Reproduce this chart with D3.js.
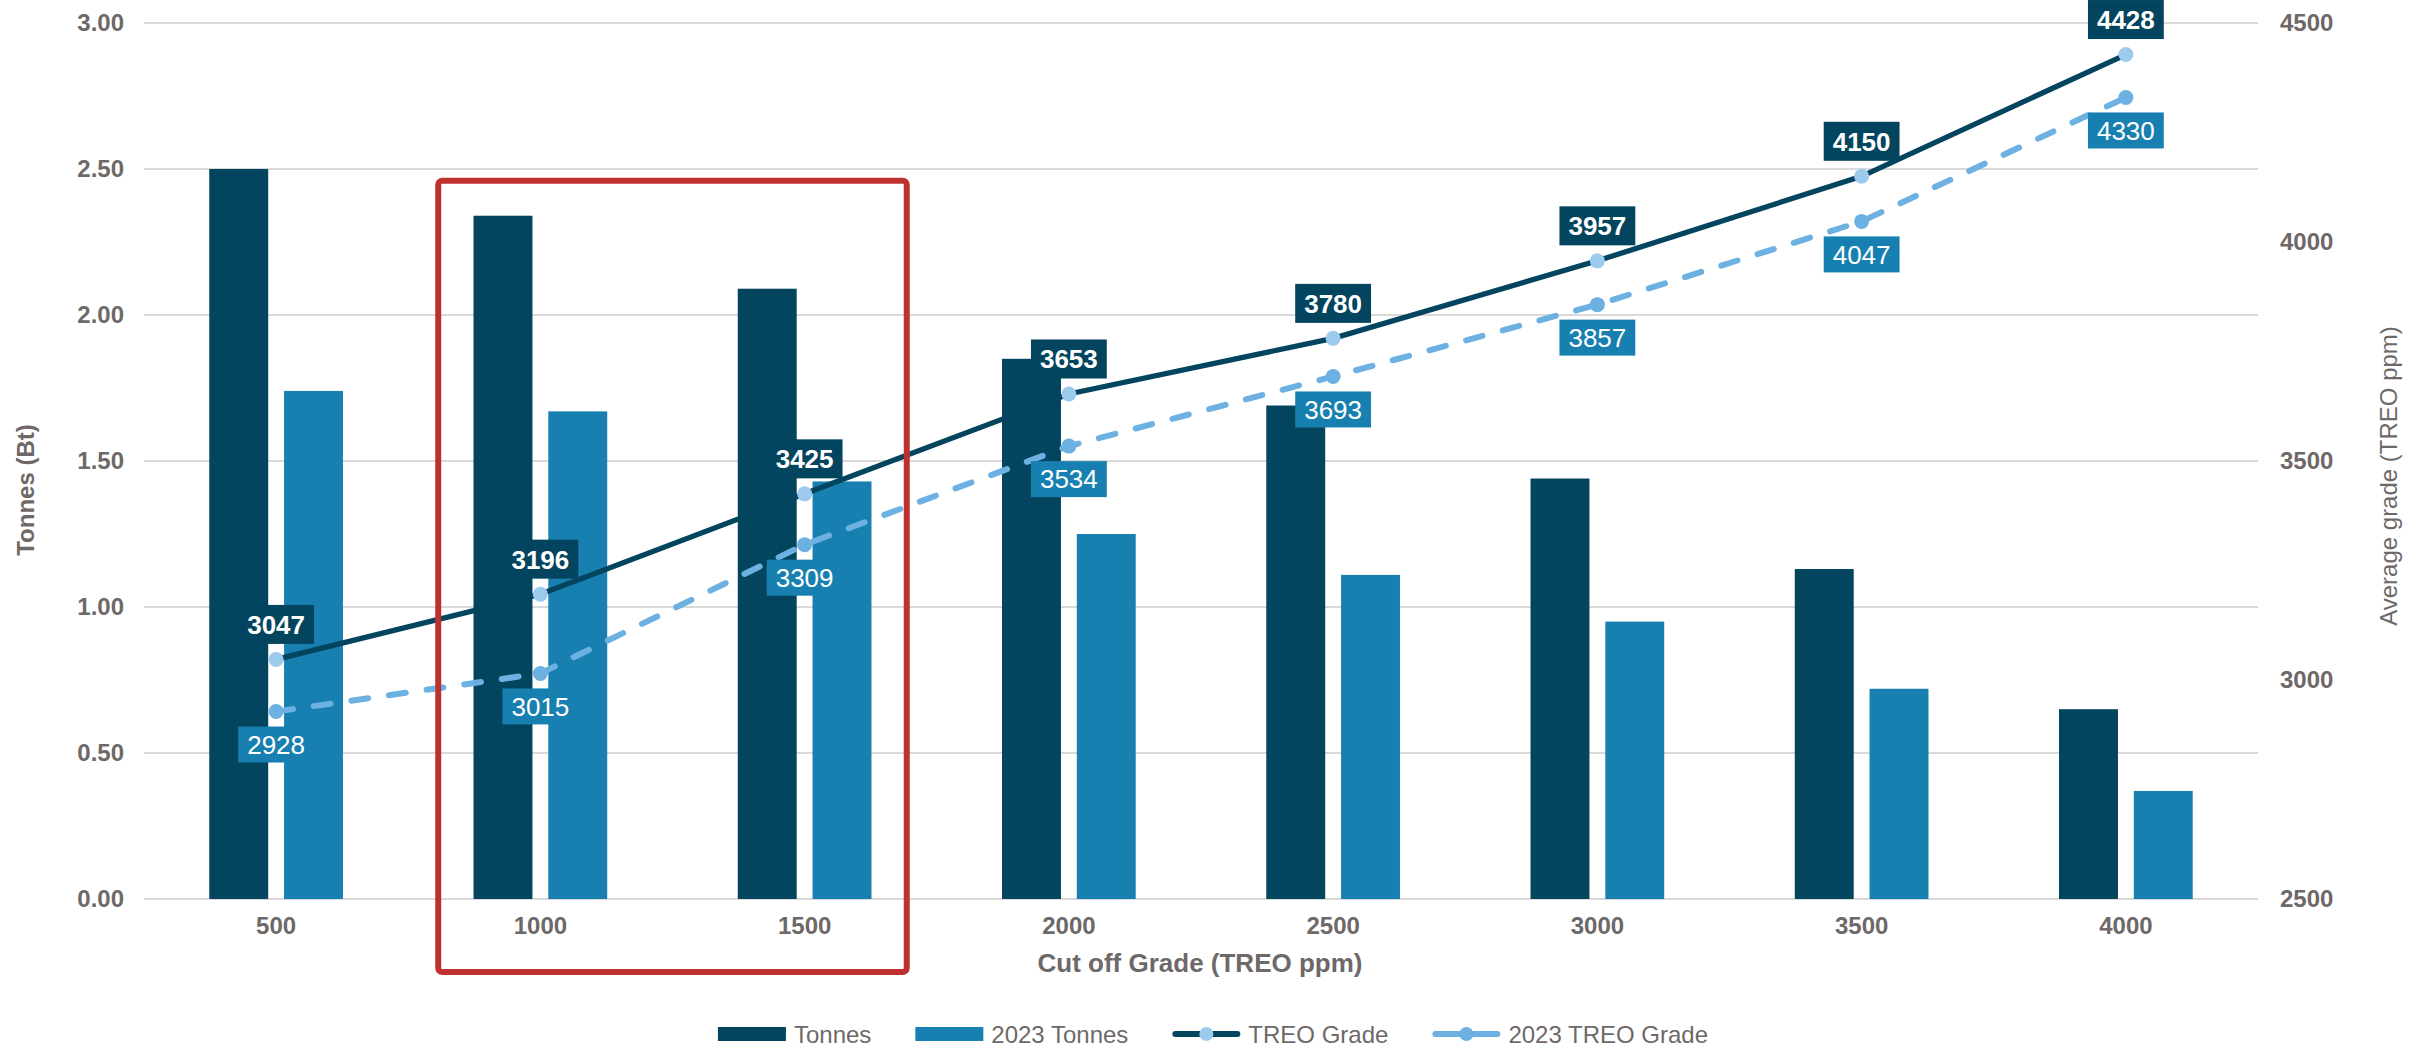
<!DOCTYPE html>
<html><head><meta charset="utf-8">
<script src="https://cdn.jsdelivr.net/npm/d3@7"></script>
<style>
html,body{margin:0;padding:0;background:#fff;}
text{font-family:"Liberation Sans",Arial,sans-serif;}
</style></head>
<body><svg id="chart" width="2427" height="1048"></svg>
<script>
const categories = ["500","1000","1500","2000","2500","3000","3500","4000"];
const tonnes = [2.50, 2.34, 2.09, 1.85, 1.69, 1.44, 1.13, 0.65];
const tonnes2023 = [1.74, 1.67, 1.43, 1.25, 1.11, 0.95, 0.72, 0.37];
const treoGrade = [3047, 3196, 3425, 3653, 3780, 3957, 4150, 4428];
const treoGrade2023 = [2928, 3015, 3309, 3534, 3693, 3857, 4047, 4330];
const leftTicks = [0, 0.5, 1.0, 1.5, 2.0, 2.5, 3.0];
const rightTicks = [2500, 3000, 3500, 4000, 4500];
const highlightCats = ["1000","1500"];
const highlightTop = 2.46;

const C = {dark:"#03445e", light:"#1880b0", dash:"#6db0e2", marker:"#9dcbee", grid:"#d9d9d9", text:"#6e6868", red:"#bf312f"};
const svg = d3.select("#chart");
const L = 144, R = 2258, T = 23, B = 899;

const x = d3.scaleBand().domain(categories).range([L, R]).padding(0);
const yL = d3.scaleLinear().domain([0, 3]).range([B, T]);
const yR = d3.scaleLinear().domain([2500, 4500]).range([B, T]);
const bw = x.bandwidth();
const barW = bw * 0.223, gap = bw * 0.06;
const cx = c => x(c) + bw / 2;

// gridlines
svg.append("g").selectAll("line").data(leftTicks).join("line")
  .attr("x1", L).attr("x2", R).attr("y1", d => yL(d)).attr("y2", d => yL(d))
  .attr("stroke", C.grid).attr("stroke-width", 2);

// left axis
const axL = d3.axisLeft(yL).tickValues(leftTicks).tickFormat(d3.format(".2f")).tickSize(0).tickPadding(20);
const gL = svg.append("g").attr("transform", `translate(${L},0)`).call(axL);
gL.select(".domain").remove();
gL.selectAll("text").attr("font-size", 24).attr("font-weight", "bold").attr("fill", C.text)
  .attr("font-family", "Liberation Sans, Arial, sans-serif");

// right axis
const axR = d3.axisRight(yR).tickValues(rightTicks).tickFormat(d3.format("d")).tickSize(0).tickPadding(22);
const gR = svg.append("g").attr("transform", `translate(${R},0)`).call(axR);
gR.select(".domain").remove();
gR.selectAll("text").attr("font-size", 24).attr("font-weight", "bold").attr("fill", C.text)
  .attr("font-family", "Liberation Sans, Arial, sans-serif");

// bottom axis
const axB = d3.axisBottom(x).tickSize(0).tickPadding(18);
const gB = svg.append("g").attr("transform", `translate(0,${B})`).call(axB);
gB.select(".domain").remove();
gB.selectAll("text").attr("font-size", 24).attr("font-weight", "bold").attr("fill", C.text)
  .attr("font-family", "Liberation Sans, Arial, sans-serif");

// axis titles
svg.append("text").attr("transform", `translate(34,490) rotate(-90)`).attr("text-anchor", "middle")
  .attr("font-size", 24).attr("font-weight", "bold").attr("fill", C.text).text("Tonnes (Bt)");
svg.append("text").attr("transform", `translate(2397,476) rotate(-90)`).attr("text-anchor", "middle")
  .attr("font-size", 24).attr("fill", C.text).text("Average grade (TREO ppm)");
svg.append("text").attr("x", 1200).attr("y", 972).attr("text-anchor", "middle")
  .attr("font-size", 26).attr("font-weight", "bold").attr("fill", C.text).text("Cut off Grade (TREO ppm)");

// bars
svg.append("g").selectAll("rect").data(categories).join("rect")
  .attr("x", c => cx(c) - gap / 2 - barW).attr("width", barW)
  .attr("y", (c, i) => yL(tonnes[i])).attr("height", (c, i) => B - yL(tonnes[i]))
  .attr("fill", C.dark);
svg.append("g").selectAll("rect").data(categories).join("rect")
  .attr("x", c => cx(c) + gap / 2).attr("width", barW)
  .attr("y", (c, i) => yL(tonnes2023[i])).attr("height", (c, i) => B - yL(tonnes2023[i]))
  .attr("fill", C.light);

// lines
const line = d3.line().x(d => cx(d.c)).y(d => yR(d.v));
const d1 = categories.map((c, i) => ({c, v: treoGrade[i]}));
const d2 = categories.map((c, i) => ({c, v: treoGrade2023[i]}));
svg.append("path").datum(d2).attr("d", line).attr("fill", "none").attr("stroke", C.dash)
  .attr("stroke-width", 6).attr("stroke-dasharray", "17,21").attr("stroke-linecap", "round");
svg.append("path").datum(d1).attr("d", line).attr("fill", "none").attr("stroke", C.dark)
  .attr("stroke-width", 5.3);
svg.append("g").selectAll("circle").data(d2).join("circle")
  .attr("cx", d => cx(d.c)).attr("cy", d => yR(d.v)).attr("r", 7.5).attr("fill", C.dash);
svg.append("g").selectAll("circle").data(d1).join("circle")
  .attr("cx", d => cx(d.c)).attr("cy", d => yR(d.v)).attr("r", 7.5).attr("fill", C.marker);

// data labels
function labels(data, fill, bold, dy) {
  const g = svg.append("g");
  data.forEach(d => {
    const gg = g.append("g").attr("transform", `translate(${cx(d.c)},${yR(d.v) + dy})`);
    const r = gg.append("rect").attr("fill", fill);
    const t = gg.append("text").attr("text-anchor", "middle").attr("dy", "0.36em")
      .attr("font-size", 26).attr("font-weight", bold ? "bold" : "normal").attr("fill", "#fff").text(d.v);
    const w = t.node().getComputedTextLength() + 18;
    const h = bold ? 39 : 36;
    r.attr("x", -w / 2).attr("y", -h / 2).attr("width", w).attr("height", h);
  });
}
labels(d1, C.dark, true, -35);
labels(d2, C.light, false, 33);

// highlight box
const hx0 = x(highlightCats[0]) + 30;
const hx1 = x(highlightCats[highlightCats.length - 1]) + bw - 30;
svg.append("rect").attr("x", hx0).attr("y", yL(highlightTop)).attr("width", hx1 - hx0)
  .attr("height", 972 - yL(highlightTop)).attr("rx", 4).attr("fill", "none")
  .attr("stroke", C.red).attr("stroke-width", 6);

// legend
const legendItems = [
  {name: "Tonnes", type: "bar", color: C.dark},
  {name: "2023 Tonnes", type: "bar", color: C.light},
  {name: "TREO Grade", type: "line", color: C.dark, mk: C.marker},
  {name: "2023 TREO Grade", type: "line", color: C.dash, mk: C.dash}
];
const lg = svg.append("g");
let lx = 0;
const ly = 1034;
legendItems.forEach(it => {
  const g = lg.append("g").attr("transform", `translate(${lx},0)`);
  if (it.type === "bar") {
    g.append("rect").attr("x", 0).attr("y", ly - 7).attr("width", 68).attr("height", 14).attr("fill", it.color);
  } else {
    g.append("line").attr("x1", 3).attr("x2", 65).attr("y1", ly).attr("y2", ly)
      .attr("stroke", it.color).attr("stroke-width", 6).attr("stroke-linecap", "round");
    g.append("circle").attr("cx", 34).attr("cy", ly).attr("r", 7).attr("fill", it.mk);
  }
  const t = g.append("text").attr("x", 76).attr("y", ly).attr("dy", "0.36em")
    .attr("font-size", 24).attr("fill", C.text).text(it.name);
  lx += 76 + t.node().getComputedTextLength() + 44;
});
const lw = lx - 44;
lg.attr("transform", `translate(${1213 - lw / 2},0)`);
</script></body></html>
